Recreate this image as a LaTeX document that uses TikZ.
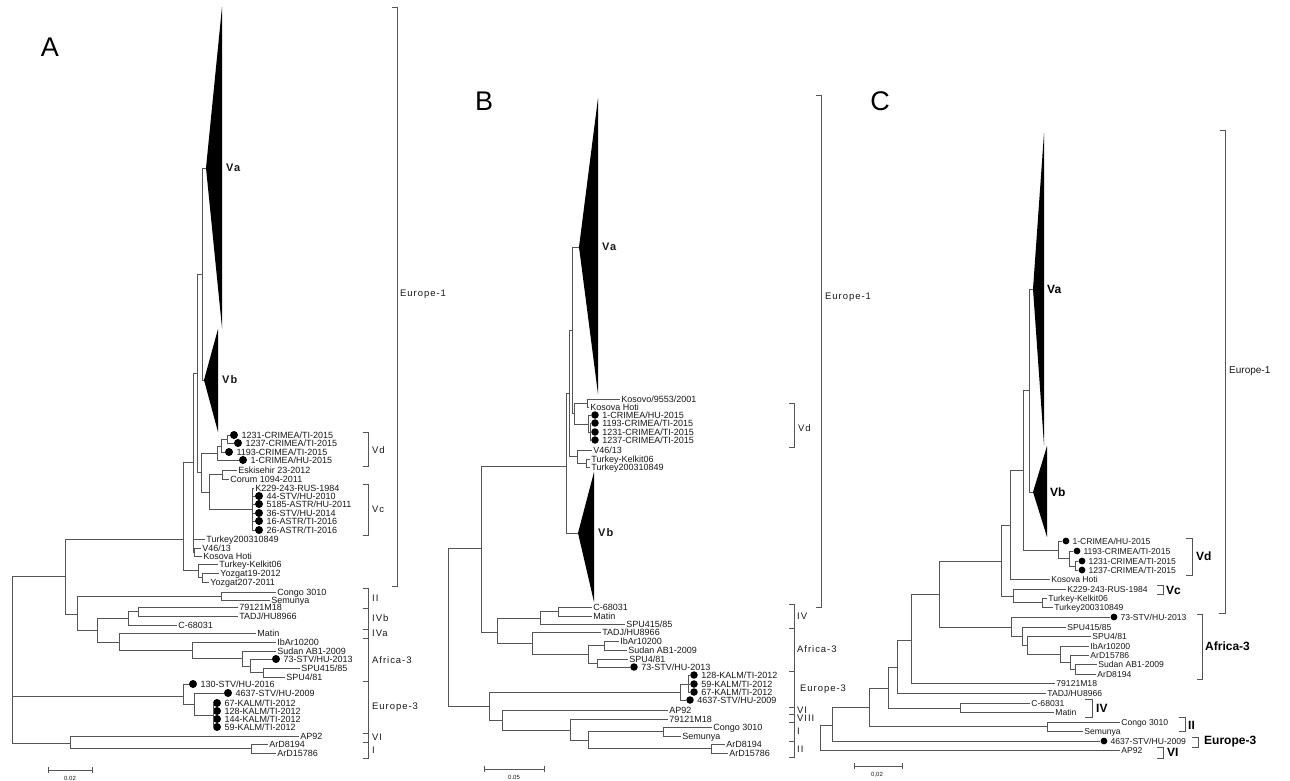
\documentclass[tikz,border=0pt]{standalone}
\usepackage{fontspec}
\setmainfont{Liberation Sans}
\newfontfamily\spacedfont[LetterSpace=10]{Liberation Sans}
\usetikzlibrary{positioning}
\definecolor{branchgray}{RGB}{85,85,85}
\definecolor{inkgray}{RGB}{25,25,25}
\begin{document}
\begin{tikzpicture}[x=1pt, y=-1pt,
  every node/.style={text=inkgray},
  br/.style={draw=branchgray, line width=0.8pt},
  brk/.style={draw=branchgray, line width=0.9pt},
  tri/.style={fill=black},
  dot/.style={circle, fill=black, inner sep=0pt, minimum size=8pt},
  dotb/.style={dot, minimum size=7.5pt},
  dotc/.style={dot, minimum size=6.8pt},
  leaf/.style={anchor=west, inner sep=1.2pt, font=\fontsize{9}{9}\selectfont, text height=6.4pt, text depth=0pt},
  leafc/.style={leaf, font=\fontsize{8.6}{8.6}\selectfont},
  plab/.style={font=\fontsize{27}{27}\selectfont, text=black},
  cladeab/.style={anchor=west, inner sep=1pt, font=\spacedfont\bfseries\fontsize{11}{11}\selectfont},
  grp/.style={anchor=west, inner sep=1pt, font=\spacedfont\fontsize{9.5}{9.5}\selectfont},
  cladec/.style={anchor=west, inner sep=1pt, font=\bfseries\fontsize{12}{12}\selectfont, text=black},
  sbar/.style={font=\fontsize{6}{6}\selectfont}]
\useasboundingbox (0,0) rectangle (1290,780);
\fill[white] (0,0) rectangle (1290,780);

% ================= A =================
\node[plab] (pa) at (50,47) {A};
% collapsed lineages
\fill[tri] (206,168) coordinate (a-va) -- (222,7) -- (222,328) -- cycle;
\fill[tri] (204,380) coordinate (a-vb) -- (218,329) -- (218,432) -- cycle;
\node[cladeab] (a-lva) at (225,168) {Va};
\node[cladeab] (a-lvb) at (221,380) {Vb};
% leaves
\node[dot] (a-d1231) at (234,435) {};
\node[leaf, right=2pt of a-d1231] (a-t1231) {1231-CRIMEA/TI-2015};
\node[dot] (a-d1237) at (238,443) {};
\node[leaf, right=2pt of a-d1237] (a-t1237) {1237-CRIMEA/TI-2015};
\node[dot] (a-d1193) at (229,452) {};
\node[leaf, right=2pt of a-d1193] (a-t1193) {1193-CRIMEA/TI-2015};
\node[dot] (a-d1) at (243,460) {};
\node[leaf, right=2pt of a-d1] (a-t1) {1-CRIMEA/HU-2015};
\node[leaf] (a-esk) at (237,470) {Eskisehir 23-2012};
\node[leaf] (a-cor) at (229,479) {Corum 1094-2011};
\node[leaf] (a-k229) at (254,488) {K229-243-RUS-1984};
\node[dot] (a-d44) at (259,496) {};
\node[leaf, right=2pt of a-d44] (a-t44) {44-STV/HU-2010};
\node[dot] (a-d5185) at (259,504) {};
\node[leaf, right=2pt of a-d5185] (a-t5185) {5185-ASTR/HU-2011};
\node[dot] (a-d36) at (259,513) {};
\node[leaf, right=2pt of a-d36] (a-t36) {36-STV/HU-2014};
\node[dot] (a-d16) at (259,521) {};
\node[leaf, right=2pt of a-d16] (a-t16) {16-ASTR/TI-2016};
\node[dot] (a-d26) at (259,530) {};
\node[leaf, right=2pt of a-d26] (a-t26) {26-ASTR/TI-2016};
\node[leaf] (a-t03) at (205,539) {Turkey200310849};
\node[leaf] (a-v46) at (201,548) {V46/13};
\node[leaf] (a-kos) at (202,556) {Kosova Hoti};
\node[leaf] (a-kel) at (218,564) {Turkey-Kelkit06};
\node[leaf] (a-yz19) at (219,573) {Yozgat19-2012};
\node[leaf] (a-yz207) at (209,582) {Yozgat207-2011};
\node[leaf] (a-congo) at (276,592) {Congo 3010};
\node[leaf] (a-sem) at (270,600) {Semunya};
\node[leaf] (a-791) at (238,607) {79121M18};
\node[leaf] (a-tadj) at (238,616) {TADJ/HU8966};
\node[leaf] (a-c68) at (177,625) {C-68031};
\node[leaf] (a-matin) at (256,633) {Matin};
\node[leaf] (a-ibar) at (276,642) {IbAr10200};
\node[leaf] (a-sudan) at (276,651) {Sudan AB1-2009};
\node[dot] (a-d73) at (276,659) {};
\node[leaf, right=2pt of a-d73] (a-t73) {73-STV/HU-2013};
\node[leaf] (a-spu415) at (300,668) {SPU415/85};
\node[leaf] (a-spu4) at (285,677) {SPU4/81};
\node[dot] (a-d130) at (193,684) {};
\node[leaf, right=2pt of a-d130] (a-t130) {130-STV/HU-2016};
\node[dot] (a-d4637) at (228,693) {};
\node[leaf, right=2pt of a-d4637] (a-t4637) {4637-STV/HU-2009};
\node[dot] (a-d67) at (217,703) {};
\node[leaf, right=2pt of a-d67] (a-t67) {67-KALM/TI-2012};
\node[dot] (a-d128) at (217,711) {};
\node[leaf, right=2pt of a-d128] (a-t128) {128-KALM/TI-2012};
\node[dot] (a-d144) at (217,719) {};
\node[leaf, right=2pt of a-d144] (a-t144) {144-KALM/TI-2012};
\node[dot] (a-d59) at (217,727) {};
\node[leaf, right=2pt of a-d59] (a-t59) {59-KALM/TI-2012};
\node[leaf] (a-ap92) at (299,736) {AP92};
\node[leaf] (a-ard8) at (268,744) {ArD8194};
\node[leaf] (a-ard15) at (276,753) {ArD15786};
% inner nodes
\coordinate (a-n1) at (202,274);
\coordinate (a-n2) at (197,373);
\coordinate (a-n3) at (201,472);
\coordinate (a-cr1) at (217,453);
\coordinate (a-cr2) at (221,446);
\coordinate (a-cr3) at (227,439);
\coordinate (a-n4) at (209,492);
\coordinate (a-ec) at (222,474);
\coordinate (a-vc) at (252,509);
\coordinate (a-n5) at (193,462);
\coordinate (a-vk) at (194,552);
\coordinate (a-yz) at (198,570);
\coordinate (a-yz2) at (202,577);
\coordinate (a-e1) at (183,539);
\coordinate (a-n6) at (65,576);
\coordinate (a-n7) at (77,614);
\coordinate (a-cg) at (221,596);
\coordinate (a-n8) at (97,630);
\coordinate (a-n9) at (128,618);
\coordinate (a-n11) at (138,611);
\coordinate (a-n10) at (119,642);
\coordinate (a-n12) at (192,650);
\coordinate (a-n13) at (242,658);
\coordinate (a-n14) at (250,666);
\coordinate (a-n15) at (263,672);
\coordinate (a-e3) at (183,696);
\coordinate (a-n16) at (194,704);
\coordinate (a-kl) at (213,715);
\coordinate (a-n17) at (70,743);
\coordinate (a-ar) at (251,748);
\coordinate (a-root) at (12,660);
% branches
\draw[br] (a-n1) |- (a-va) (a-n1) |- (a-vb);
\draw[br] (a-n2) |- (a-n1) (a-n2) |- (a-n3);
\draw[br] (a-n3) |- (a-cr1) (a-n3) |- (a-n4);
\draw[br] (a-cr1) |- (a-cr2) (a-cr1) |- (a-d1.west);
\draw[br] (a-cr2) |- (a-cr3) (a-cr2) |- (a-d1193.west);
\draw[br] (a-cr3) |- (a-d1231.west) (a-cr3) |- (a-d1237.west);
\draw[br] (a-n4) |- (a-ec) (a-n4) |- (a-vc);
\draw[br] (a-ec) |- (a-esk.west) (a-ec) |- (a-cor.west);
\draw[br] (a-vc) |- (a-k229.west) (a-vc) |- (a-d26.west);
\foreach \d in {a-d44,a-d5185,a-d36,a-d16} \draw[br] (a-vc |- \d) -- (\d.west);
\draw[br] (a-n5) |- (a-n2) (a-n5) |- (a-t03.west) (a-n5) |- (a-vk);
\draw[br] (a-vk) |- (a-v46.west) (a-vk) |- (a-kos.west);
\draw[br] (a-yz) |- (a-kel.west) (a-yz) |- (a-yz2);
\draw[br] (a-yz2) |- (a-yz19.west) (a-yz2) |- (a-yz207.west);
\draw[br] (a-e1) |- (a-n5) (a-e1) |- (a-yz);
\draw[br] (a-n6) |- (a-e1) (a-n6) |- (a-n7);
\draw[br] (a-n7) |- (a-cg) (a-n7) |- (a-n8);
\draw[br] (a-cg) |- (a-congo.west) (a-cg) |- (a-sem.west);
\draw[br] (a-n8) |- (a-n9) (a-n8) |- (a-n10);
\draw[br] (a-n9) |- (a-n11) (a-n9) |- (a-c68.west);
\draw[br] (a-n11) |- (a-791.west) (a-n11) |- (a-tadj.west);
\draw[br] (a-n10) |- (a-matin.west) (a-n10) |- (a-n12);
\draw[br] (a-n12) |- (a-ibar.west) (a-n12) |- (a-n13);
\draw[br] (a-n13) |- (a-sudan.west) (a-n13) |- (a-n14);
\draw[br] (a-n14) |- (a-d73.west) (a-n14) |- (a-n15);
\draw[br] (a-n15) |- (a-spu415.west) (a-n15) |- (a-spu4.west);
\draw[br] (a-e3) |- (a-d130.west) (a-e3) |- (a-n16);
\draw[br] (a-n16) |- (a-d4637.west) (a-n16) |- (a-kl);
\draw[br] (a-kl) |- (a-d67.west) (a-kl) |- (a-d59.west);
\foreach \d in {a-d128,a-d144} \draw[br] (a-kl |- \d) -- (\d.west);
\draw[br] (a-n17) |- (a-ap92.west) (a-n17) |- (a-ar);
\draw[br] (a-ar) |- (a-ard8.west) (a-ar) |- (a-ard15.west);
\draw[br] (a-root) |- (a-n6) (a-root) |- (a-e3) (a-root) |- (a-n17);
% groups
\draw[brk] (392,7) -- (397,7) -- (397,586) -- (392,586);
\node[grp] (a-ge1) at (399,294) {Europe-1};
\draw[brk] (363,432) -- (368,432) -- (368,466) -- (363,466);
\node[grp] (a-gvd) at (371,450) {Vd};
\draw[brk] (363,484) -- (368,484) -- (368,535) -- (363,535);
\node[grp] (a-gvc) at (371,509) {Vc};
\draw[brk] (363,588) -- (368,588) -- (368,758) -- (363,758);
\foreach \t in {608,629,638,681,733,742} \draw[brk] (363,\t) -- (368,\t);
\node[grp] (a-g2) at (371,598) {II};
\node[grp] (a-g4b) at (371,618) {IVb};
\node[grp] (a-g4a) at (371,633) {IVa};
\node[grp] (a-gaf) at (371,660) {Africa-3};
\node[grp] (a-ge3) at (371,707) {Europe-3};
\node[grp] (a-g6) at (371,737) {VI};
\node[grp] (a-g1) at (371,750) {I};
% scale
\draw[brk] (48,767) -- (48,770) -- (92,770) -- (92,767) (48,773) -- (48,770) (92,773) -- (92,770);
\node[sbar] (a-sc) at (70,778) {0.02};

% ================= B =================
\node[plab] (pb) at (484,101) {B};
\fill[tri] (579,247) coordinate (b-va) -- (598,98) -- (598,394) -- cycle;
\fill[tri] (578,533) coordinate (b-vb) -- (594,472) -- (594,602) -- cycle;
\node[cladeab] (b-lva) at (601,247) {Va};
\node[cladeab] (b-lvb) at (597,533) {Vb};
% leaves
\node[leaf] (b-kos9) at (620,399) {Kosovo/9553/2001};
\node[leaf] (b-kos) at (589,407) {Kosova Hoti};
\node[dotb] (b-d1) at (595,415) {};
\node[leaf, right=2pt of b-d1] (b-t1) {1-CRIMEA/HU-2015};
\node[dotb] (b-d1193) at (595,423) {};
\node[leaf, right=2pt of b-d1193] (b-t1193) {1193-CRIMEA/TI-2015};
\node[dotb] (b-d1231) at (595,432) {};
\node[leaf, right=2pt of b-d1231] (b-t1231) {1231-CRIMEA/TI-2015};
\node[dotb] (b-d1237) at (595,440) {};
\node[leaf, right=2pt of b-d1237] (b-t1237) {1237-CRIMEA/TI-2015};
\node[leaf] (b-v46) at (592,450) {V46/13};
\node[leaf] (b-kel) at (590,459) {Turkey-Kelkit06};
\node[leaf] (b-t03) at (590,467) {Turkey200310849};
\node[leaf] (b-c68) at (592,607) {C-68031};
\node[leaf] (b-matin) at (592,616) {Matin};
\node[leaf] (b-spu415) at (625,624) {SPU415/85};
\node[leaf] (b-tadj) at (601,632) {TADJ/HU8966};
\node[leaf] (b-ibar) at (619,641) {IbAr10200};
\node[leaf] (b-sudan) at (627,650) {Sudan AB1-2009};
\node[leaf] (b-spu4) at (628,659) {SPU4/81};
\node[dotb] (b-d73) at (634,667) {};
\node[leaf, right=2pt of b-d73] (b-t73) {73-STV/HU-2013};
\node[dotb] (b-d128) at (694,675) {};
\node[leaf, right=2pt of b-d128] (b-t128) {128-KALM/TI-2012};
\node[dotb] (b-d59) at (694,684) {};
\node[leaf, right=2pt of b-d59] (b-t59) {59-KALM/TI-2012};
\node[dotb] (b-d67) at (694,692) {};
\node[leaf, right=2pt of b-d67] (b-t67) {67-KALM/TI-2012};
\node[dotb] (b-d4637) at (690,700) {};
\node[leaf, right=2pt of b-d4637] (b-t4637) {4637-STV/HU-2009};
\node[leaf] (b-ap92) at (668,710) {AP92};
\node[leaf] (b-791) at (668,719) {79121M18};
\node[leaf] (b-congo) at (712,727) {Congo 3010};
\node[leaf] (b-sem) at (681,736) {Semunya};
\node[leaf] (b-ard8) at (725,744) {ArD8194};
\node[leaf] (b-ard15) at (728,753) {ArD15786};
% inner nodes
\coordinate (b-kh) at (587,403);
\coordinate (b-c1) at (588,424);
\coordinate (b-c2) at (590,432);
\coordinate (b-n3) at (574,413);
\coordinate (b-tk) at (586,463);
\coordinate (b-n5) at (577,456);
\coordinate (b-n1) at (572,330);
\coordinate (b-n4) at (569,393);
\coordinate (b-n6) at (566,466);
\coordinate (b-n7) at (481,548);
\coordinate (b-up) at (497,632);
\coordinate (b-cm) at (540,618);
\coordinate (b-cmt) at (558,611);
\coordinate (b-af) at (532,643);
\coordinate (b-af2) at (588,654);
\coordinate (b-is) at (604,645);
\coordinate (b-s7) at (597,663);
\coordinate (b-kl) at (688,684);
\coordinate (b-e3) at (680,692);
\coordinate (b-l1) at (489,706);
\coordinate (b-l2) at (502,720);
\coordinate (b-l3) at (570,730);
\coordinate (b-l4) at (588,740);
\coordinate (b-cg) at (663,731);
\coordinate (b-ar) at (711,748);
\coordinate (b-root) at (448,627);
% branches
\draw[br] (b-kh) |- (b-kos9.west) (b-kh) |- (b-kos.west);
\draw[br] (b-c2) |- (b-d1193.west) (b-c2) |- (b-d1231.west) (b-c2) |- (b-d1237.west);
\draw[br] (b-c1) |- (b-d1.west) (b-c1) |- (b-c2);
\draw[br] (b-n3) |- (b-kh) (b-n3) |- (b-c1);
\draw[br] (b-tk) |- (b-kel.west) (b-tk) |- (b-t03.west);
\draw[br] (b-n5) |- (b-v46.west) (b-n5) |- (b-tk);
\draw[br] (b-n1) |- (b-va) (b-n1) |- (b-n3);
\draw[br] (b-n4) |- (b-n1) (b-n4) |- (b-n5);
\draw[br] (b-n6) |- (b-n4) (b-n6) |- (b-vb);
\draw[br] (b-n7) |- (b-n6) (b-n7) |- (b-up);
\draw[br] (b-up) |- (b-cm) (b-up) |- (b-af);
\draw[br] (b-cm) |- (b-cmt) (b-cm) |- (b-spu415.west);
\draw[br] (b-cmt) |- (b-c68.west) (b-cmt) |- (b-matin.west);
\draw[br] (b-af) |- (b-tadj.west) (b-af) |- (b-af2);
\draw[br] (b-af2) |- (b-is) (b-af2) |- (b-s7);
\draw[br] (b-is) |- (b-ibar.west) (b-is) |- (b-sudan.west);
\draw[br] (b-s7) |- (b-spu4.west) (b-s7) |- (b-d73.west);
\draw[br] (b-kl) |- (b-d128.west) (b-kl) |- (b-d59.west) (b-kl) |- (b-d67.west);
\draw[br] (b-e3) |- (b-kl) (b-e3) |- (b-d4637.west);
\draw[br] (b-l1) |- (b-e3) (b-l1) |- (b-l2);
\draw[br] (b-l2) |- (b-ap92.west) (b-l2) |- (b-l3);
\draw[br] (b-l3) |- (b-791.west) (b-l3) |- (b-l4);
\draw[br] (b-l4) |- (b-cg) (b-l4) |- (b-ar);
\draw[br] (b-cg) |- (b-congo.west) (b-cg) |- (b-sem.west);
\draw[br] (b-ar) |- (b-ard8.west) (b-ar) |- (b-ard15.west);
\draw[br] (b-root) |- (b-n7) (b-root) |- (b-l1);
% groups
\draw[brk] (816,95) -- (821,95) -- (821,607) -- (816,607);
\node[grp] (b-ge1) at (824,297) {Europe-1};
\draw[brk] (789,403) -- (794,403) -- (794,447) -- (789,447);
\node[grp] (b-gvd) at (797,428) {Vd};
\draw[brk] (789,604) -- (794,604) -- (794,757) -- (789,757);
\foreach \t in {628,671,707,714,722,741} \draw[brk] (789,\t) -- (794,\t);
\node[grp] (b-g4) at (796,616) {IV};
\node[grp] (b-gaf) at (796,649) {Africa-3};
\node[grp] (b-ge3) at (799,689) {Europe-3};
\node[grp] (b-g6) at (796,710) {VI};
\node[grp] (b-g8) at (796,718) {VIII};
\node[grp] (b-g1) at (796,731) {I};
\node[grp] (b-g2) at (796,749) {II};
% scale
\draw[brk] (484,772) -- (484,769) -- (544,769) -- (544,772) (484,766) -- (484,769) (544,766) -- (544,769);
\node[sbar] (b-sc) at (514,777) {0.05};

% ================= C =================
\node[plab] (pc) at (880,101) {C};
\fill[tri] (1033,289) coordinate (c-va) -- (1044,133) -- (1044,445) -- cycle;
\fill[tri] (1033,492) coordinate (c-vb) -- (1047,446) -- (1047,537) -- cycle;
\node[cladec] (c-lva) at (1046,289) {Va};
\node[cladec] (c-lvb) at (1049,492) {Vb};
% leaves
\node[dotc] (c-d1) at (1066,541) {};
\node[leafc, right=1.5pt of c-d1] (c-t1) {1-CRIMEA/HU-2015};
\node[dotc] (c-d1193) at (1077,551) {};
\node[leafc, right=1.5pt of c-d1193] (c-t1193) {1193-CRIMEA/TI-2015};
\node[dotc] (c-d1231) at (1082,561) {};
\node[leafc, right=1.5pt of c-d1231] (c-t1231) {1231-CRIMEA/TI-2015};
\node[dotc] (c-d1237) at (1082,570) {};
\node[leafc, right=1.5pt of c-d1237] (c-t1237) {1237-CRIMEA/TI-2015};
\node[leafc] (c-kos) at (1050,579) {Kosova Hoti};
\node[leafc] (c-k229) at (1066,589) {K229-243-RUS-1984};
\node[leafc] (c-kel) at (1047,598) {Turkey-Kelkit06};
\node[leafc] (c-t03) at (1053,607) {Turkey200310849};
\node[dotc] (c-d73) at (1114,617) {};
\node[leafc, right=1.5pt of c-d73] (c-t73) {73-STV/HU-2013};
\node[leafc] (c-spu415) at (1066,627) {SPU415/85};
\node[leafc] (c-spu4) at (1091,636) {SPU4/81};
\node[leafc] (c-ibar) at (1089,646) {IbAr10200};
\node[leafc] (c-ard15) at (1089,655) {ArD15786};
\node[leafc] (c-sudan) at (1097,664) {Sudan AB1-2009};
\node[leafc] (c-ard8) at (1096,674) {ArD8194};
\node[leafc] (c-791) at (1055,683) {79121M18};
\node[leafc] (c-tadj) at (1046,693) {TADJ/HU8966};
\node[leafc] (c-c68) at (1030,703) {C-68031};
\node[leafc] (c-matin) at (1054,712) {Matin};
\node[leafc] (c-congo) at (1120,722) {Congo 3010};
\node[leafc] (c-sem) at (1083,731) {Semunya};
\node[dotc] (c-d4637) at (1104,741) {};
\node[leafc, right=1.5pt of c-d4637] (c-t4637) {4637-STV/HU-2009};
\node[leafc] (c-ap92) at (1120,750) {AP92};
% inner nodes
\coordinate (c-n1) at (1029,390);
\coordinate (c-n2) at (1023,470);
\coordinate (c-cr) at (1058,550);
\coordinate (c-cr2) at (1069,558);
\coordinate (c-cr3) at (1075,566);
\coordinate (c-n3) at (1010,525);
\coordinate (c-n4) at (1001,561);
\coordinate (c-k) at (1013,596);
\coordinate (c-tk) at (1042,602);
\coordinate (c-n5) at (939,594);
\coordinate (c-af) at (1011,627);
\coordinate (c-af2) at (1022,636);
\coordinate (c-af3) at (1027,645);
\coordinate (c-af4) at (1060,654);
\coordinate (c-af5) at (1070,662);
\coordinate (c-af6) at (1075,669);
\coordinate (c-n6) at (911,640);
\coordinate (c-n7) at (897,667);
\coordinate (c-n8) at (888,688);
\coordinate (c-iv) at (960,708);
\coordinate (c-n9) at (869,707);
\coordinate (c-cg) at (1047,726);
\coordinate (c-n10) at (832,725);
\coordinate (c-root) at (820,737);
% branches
\draw[br] (c-n1) |- (c-va) (c-n1) |- (c-vb);
\draw[br] (c-n2) |- (c-n1) (c-n2) |- (c-cr);
\draw[br] (c-cr) |- (c-d1.west) (c-cr) |- (c-cr2);
\draw[br] (c-cr2) |- (c-d1193.west) (c-cr2) |- (c-cr3);
\draw[br] (c-cr3) |- (c-d1231.west) (c-cr3) |- (c-d1237.west);
\draw[br] (c-n3) |- (c-n2) (c-n3) |- (c-kos.west);
\draw[br] (c-n4) |- (c-n3) (c-n4) |- (c-k);
\draw[br] (c-k) |- (c-k229.west) (c-k) |- (c-tk);
\draw[br] (c-tk) |- (c-kel.west) (c-tk) |- (c-t03.west);
\draw[br] (c-n5) |- (c-n4) (c-n5) |- (c-af);
\draw[br] (c-af) |- (c-d73.west) (c-af) |- (c-af2);
\draw[br] (c-af2) |- (c-spu415.west) (c-af2) |- (c-af3);
\draw[br] (c-af3) |- (c-spu4.west) (c-af3) |- (c-af4);
\draw[br] (c-af4) |- (c-ibar.west) (c-af4) |- (c-af5);
\draw[br] (c-af5) |- (c-ard15.west) (c-af5) |- (c-af6);
\draw[br] (c-af6) |- (c-sudan.west) (c-af6) |- (c-ard8.west);
\draw[br] (c-n6) |- (c-n5) (c-n6) |- (c-791.west);
\draw[br] (c-n7) |- (c-n6) (c-n7) |- (c-tadj.west);
\draw[br] (c-n8) |- (c-n7) (c-n8) |- (c-iv);
\draw[br] (c-iv) |- (c-c68.west) (c-iv) |- (c-matin.west);
\draw[br] (c-n9) |- (c-n8) (c-n9) |- (c-cg);
\draw[br] (c-cg) |- (c-congo.west) (c-cg) |- (c-sem.west);
\draw[br] (c-n10) |- (c-n9) (c-n10) |- (c-d4637.west);
\draw[br] (c-root) |- (c-n10) (c-root) |- (c-ap92.west);
% groups
\draw[brk] (1220,130) -- (1225,130) -- (1225,613) -- (1219,613);
\node[grp, font=\fontsize{10}{10}\selectfont] (c-ge1) at (1228,371) {Europe-1};
\draw[brk] (1186,538) -- (1192,538) -- (1192,575) -- (1186,575);
\node[cladec] (c-gvd) at (1195,556) {Vd};
\draw[brk] (1157,585) -- (1163,585) -- (1163,594) -- (1157,594);
\node[cladec] (c-gvc) at (1165,590) {Vc};
\draw[brk] (1197,614) -- (1202,614) -- (1202,679) -- (1197,679);
\node[cladec] (c-gaf) at (1204,646) {Africa-3};
\draw[brk] (1085,699) -- (1092,699) -- (1092,717) -- (1085,717);
\node[cladec] (c-g4) at (1095,708) {IV};
\draw[brk] (1179,717) -- (1185,717) -- (1185,731) -- (1179,731);
\node[cladec] (c-g2) at (1187,725) {II};
\draw[brk] (1192,737) -- (1198,737) -- (1198,747) -- (1192,747);
\node[cladec] (c-ge3) at (1203,742) {Europe-3};
\draw[brk] (1157,747) -- (1163,747) -- (1163,758) -- (1157,758);
\node[cladec] (c-g6) at (1166,752) {VI};
% scale
\draw[brk] (854,763) -- (854,766) -- (902,766) -- (902,763) (854,769) -- (854,766) (902,769) -- (902,766);
\node[sbar] (c-sc) at (877,775) {0,02};
\end{tikzpicture}
\end{document}
